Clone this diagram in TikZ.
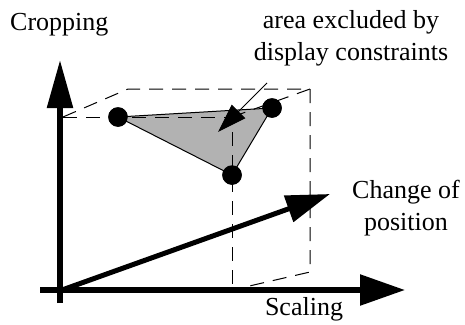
\documentclass[tikz,border=0pt]{standalone}
\usepackage{fontspec}
\setmainfont{Liberation Serif}
\usetikzlibrary{arrows.meta}
\tikzset{
  axis/.style={line width=5.5pt},
  dashline/.style={line width=1pt, dash pattern=on 14pt off 9pt},
  dot/.style={circle, fill=black, inner sep=0pt, minimum size=19.5pt},
  lbl/.style={font=\fontsize{26}{31.5}\selectfont, inner sep=0pt, align=center},
  thinl/.style={line width=1pt}
}
\begin{document}
\begin{tikzpicture}[x=1pt,y=-1pt]
\useasboundingbox (0,0) rectangle (465,324);
% coordinates
\coordinate (O) at (60,290);
\coordinate (Ybot) at (60,303);
\coordinate (Ytop) at (60,60);
\coordinate (Xl) at (40,290);
\coordinate (Xr) at (405,290);
\coordinate (Dst) at (62,290);
\coordinate (Dend) at (330,194);
\coordinate (F1) at (63,117);
\coordinate (F2) at (232,117);
\coordinate (F3) at (232,290);
\coordinate (B1) at (128,89);
\coordinate (B2) at (310,89);
\coordinate (B3) at (310,272);
\coordinate (Ps) at (267,83);
\coordinate (Pe) at (218,132);
% dots
\node[dot] (A) at (118,117) {};
\node[dot] (B) at (272,108) {};
\node[dot] (C) at (232,175) {};
% triangle
\filldraw[fill=black!30, thinl] (A.center) -- (B.center) -- (C.center) -- cycle;
% dashed box
\draw[dashline] (F1) -- (F2) -- (F3);
\draw[dashline] (F1) -- (B1) -- (B2) -- (B3) -- (F3);
\draw[dashline] (F2) -- (B2);
% redraw dots on top
\node[dot] at (A) {};
\node[dot] at (B) {};
\node[dot] at (C) {};
% pointer arrow
\draw[thinl, -{Triangle[length=29pt, width=19pt]}] (Ps) -- (Pe);
% axes
\draw[axis, -{Triangle[length=48pt, width=25pt]}] (Ybot) -- (Ytop);
\draw[axis, -{Triangle[length=45pt, width=30pt]}] (Xl) -- (Xr);
\draw[line width=5pt, -{Triangle[length=44pt, width=27pt]}] (Dst) -- (Dend);
% labels
\node[lbl, anchor=base west] (lc) at (10,30) {Cropping};
\node[lbl, anchor=base] (la) at (351,28) {area excluded by};
\node[lbl, anchor=base] (ld) at (351,60) {display constraints};
\node[lbl, anchor=base] (lch) at (406,198) {Change of};
\node[lbl, anchor=base] (lp) at (406,230) {position};
\node[lbl, anchor=base] (ls) at (304,315) {Scaling};
\end{tikzpicture}
\end{document}
